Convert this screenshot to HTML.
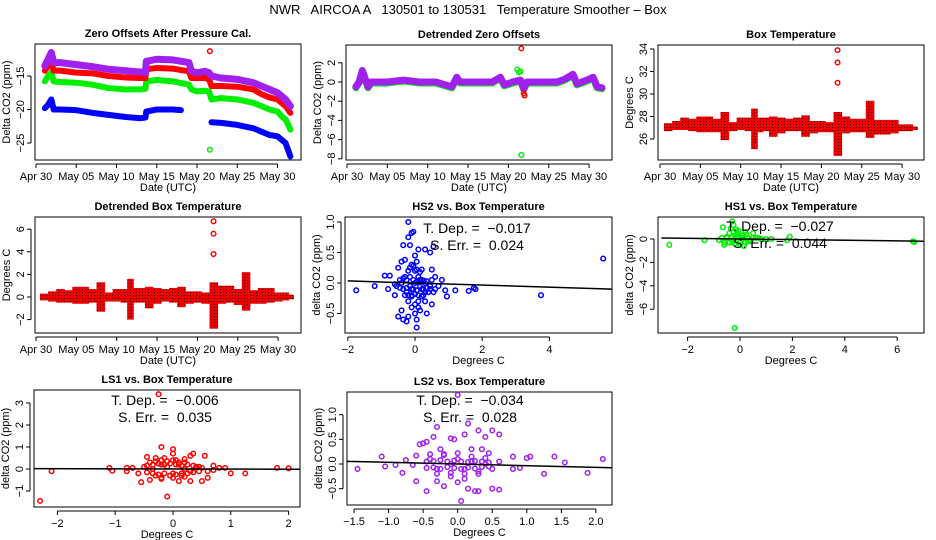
<!DOCTYPE html>
<html><head><meta charset="utf-8"><style>
body{margin:0;background:#fff}
svg{display:block;font-family:"Liberation Sans",Arial,sans-serif}
.t{font-weight:bold;font-size:11px;text-anchor:middle}
.tk{font-size:11px}
</style></head><body>
<svg id="c" width="936" height="540" viewBox="0 0 936 540">
<defs>
<pattern id="redpat" width="3" height="3" patternUnits="userSpaceOnUse"><rect width="3" height="3" fill="#e00"/><rect x="1" y="1" width="1" height="1" fill="#400"/></pattern>
</defs>
<text x="468" y="14" font-size="13" text-anchor="middle" style="white-space:pre">NWR   AIRCOA A   130501 to 130531   Temperature Smoother – Box</text>
</svg>
<script>
// ---- data (day offsets from Apr 30) ----
const p1Times=[1.1,1.5,1.9,2.2,3,5,7,9,11,13,13.6,13.7,15,17,19,19.3,20,21,21.5,21.8,23,25,27,28,29,30,30.5,31,31.3,31.6];
const p1Purple=[-13.5,-12.5,-11.5,-13,-13,-13.3,-13.6,-14,-14.2,-14.4,-14.5,-12.8,-12.5,-12.6,-13,-14.3,-14.5,-14.3,-14.5,-15,-15.3,-15.5,-16,-16.5,-17,-17.5,-18,-18.5,-19,-19.5];
const p1Red=[-14.2,-13.5,-13,-14.2,-14.2,-14.5,-14.6,-15,-15.2,-15.3,-15.3,-14,-13.8,-13.9,-14.3,-15.3,-15.3,-15.3,-15.5,-16.5,-16.5,-16.6,-17,-17.7,-18.2,-18.5,-19,-19.5,-20,-20.5];
const p1Green=[-15.8,-15,-14.5,-15.8,-15.9,-16,-16.3,-16.8,-17,-17,-16.9,-15.8,-15.6,-15.8,-16.3,-17,-17.3,-17.2,-17.3,-18.5,-18.3,-18.5,-19,-19.5,-20,-20.3,-21,-21.5,-22.2,-23];
const p1BlueTimes=[1.1,1.5,1.9,2.2,3,5,7,9,11,13,13.6,13.7,15,17,18,21.8,23,25,27,28,29,30,30.5,31,31.3,31.6];
const p1Blue=[-19.8,-19.3,-18.5,-20,-20,-20.1,-20.5,-20.8,-21.1,-21.3,-21.2,-20.3,-20,-20,-20.1,-21.9,-22,-22.3,-22.8,-23.3,-23.8,-24,-24.5,-25,-26,-27];
const p2Times=[1.1,1.5,1.9,2.2,2.6,3,5,7,9,11,13,13.6,14,16,18,19,19.5,20.5,21.5,21.9,22.3,24,26,27,28,28.5,30,30.5,31,31.6];
const p2Purple=[-0.5,0,1.2,0.5,-0.5,0,0,0.2,0,0,-0.5,0.5,0,0,0,0.5,-0.3,0,0.2,-0.7,0,0,0,0.3,0.8,-0.2,0.3,0.5,-0.5,-0.6];
const tempDays=[1,2,3,4,5,6,7,8,9,10,11,11.6,12.5,13,14,15,16,17,18,19,20,21,22,23,24,25,26,27,28,29,30,31,31.6];
const tempLo=[26.7,26.8,26.8,26.7,26.6,26.6,26.6,25.9,26.7,26.8,26.7,25.1,26.6,26.7,26.2,26.5,26.7,26.7,26.2,26.5,26.6,26.6,24.5,26.5,26.6,26.6,26.1,26.4,26.4,26.5,26.7,26.7,26.8];
const tempHi=[27.4,27.6,27.9,27.8,28,28,27.8,28.4,27.5,27.9,27.9,28.7,27.9,27.9,28,27.9,27.8,27.9,28.1,27.6,27.6,27.5,28.4,28,27.8,27.8,29.4,27.7,27.7,27.7,27.3,27.3,27.1];
const detLo=[-0.3,-0.4,-0.5,-0.5,-0.6,-0.6,-0.5,-1.3,-0.4,-0.4,-0.5,-2,-0.5,-0.5,-1,-0.6,-0.4,-0.5,-0.9,-0.6,-0.5,-0.6,-2.8,-0.6,-0.5,-0.7,-1.2,-0.6,-0.6,-0.5,-0.4,-0.3,-0.2];
const detHi=[0.3,0.5,0.7,0.6,0.9,0.9,0.7,1.3,0.4,0.7,0.7,1.6,0.8,0.8,0.9,0.8,0.7,0.8,0.9,0.5,0.5,0.4,1.3,1,1,0.7,2.2,0.6,0.8,0.8,0.4,0.4,0.2];
const hs2X=[-1.75,-1.2,-0.9,-0.75,-0.8,-0.6,-0.5,-0.4,-0.3,-0.35,-0.15,-0.1,-0.2,-0.05,-0.2,0,0.1,0.3,0.45,0.55,0.2,0.5,0.8,0.9,0.95,1.2,1.6,1.75,1.8,3.75,5.6,-0.4,-0.5,-0.35,-0.25,-0.2,0,0.05,0.05,0.15,0.35,0.5,-0.55,-0.3,-0.2,-0.1,0,0.1,0.2,0.3,0.4,0.5,0.6,-0.1,0,0.1,-0.2,0.3,-0.4,0.2,-0.25,0.45,0.6,-0.1,0.05,0.25,
 -0.45,-0.35,-0.25,-0.15,-0.05,0.05,0.15,0.25,0.35,-0.45,-0.35,-0.25,-0.15,-0.05,0.05,0.15,0.25,0.35,0.45,-0.3,-0.2,-0.1,0,0.1,0.2,0.3,-0.15,-0.05,0.05,0.15,-0.1,0,0.1,0.7,-0.6,0.55];
const hs2Y=[-0.12,-0.05,0.12,0.12,-0.1,-0.2,0.25,0.35,0.38,0.62,0.62,0.82,0.75,0.84,1.0,0.45,0.55,0.55,0.5,0.6,0.22,0.22,0.05,-0.12,-0.22,-0.12,-0.13,-0.08,-0.1,-0.2,0.4,-0.45,-0.55,-0.6,-0.63,-0.55,-0.5,-0.6,-0.73,-0.45,-0.5,-0.35,-0.05,0.1,0.2,-0.1,0,0.1,-0.1,0,-0.15,0.05,-0.1,0.3,0.2,-0.3,-0.3,-0.3,0,0.05,-0.15,-0.05,0.1,-0.2,0.35,-0.2,
 0.05,0.08,0.05,0.1,0.05,0.02,0.05,0.04,0.03,-0.08,-0.1,-0.08,-0.05,-0.1,-0.12,-0.06,-0.1,-0.08,-0.1,-0.2,-0.2,-0.22,-0.18,-0.2,-0.22,-0.15,0.25,0.28,0.22,0.18,-0.4,-0.35,-0.4,-0.05,-0.02,-0.15];
const hs1X=[-2.7,-1.35,-0.65,-0.3,-0.25,-0.15,-0.2,1.9,1.8,6.6,6.65,-0.8,-0.6,-0.5,-0.4,-0.3,-0.2,-0.1,0,0.1,0.2,0.3,0.5,0.6,0.8,1,1.2,-0.35,0.15,-0.1,0.4,0.05,
 -0.7,-0.5,-0.3,-0.1,0.1,0.3,0.5,0.7,-0.6,-0.4,-0.2,0,0.2,0.4,-0.25,-0.05,0.25];
const hs1Y=[-0.5,-0.1,1.0,1.5,1.2,0.8,-7.6,0.2,-0.1,-0.2,-0.25,-0.1,-0.5,0.2,0.5,-0.3,0.3,0,-0.5,0.3,0.6,-0.2,0.5,0.1,0,0,0,0.9,-0.6,0.5,-0.1,0.1,
 0.1,0.1,0.2,0.2,0.1,0.1,0.1,0.1,-0.3,-0.3,-0.4,-0.3,-0.3,-0.2,0.6,0.7,0.4];
const ls1X=[-2.3,-2.1,-1.1,-1.05,-0.8,-0.8,-0.7,-0.55,-0.45,-0.4,-0.3,-0.25,-0.2,-0.1,0,0,0.2,0.3,0.35,0.55,0.6,0.5,0.3,0.1,-0.2,0.7,0.9,1,1.25,1.8,2,-0.6,-0.5,-0.4,-0.3,-0.2,-0.1,0,0.1,0.2,0.3,0.4,0.5,0.6,-0.15,0.05,-0.35,0.15,0.7,0.8,
 -0.45,-0.35,-0.25,-0.15,-0.05,0.05,0.15,0.25,0.35,0.45,-0.45,-0.35,-0.25,-0.15,-0.05,0.05,0.15,0.25,0.35,0.45,-0.3,-0.2,-0.1,0,0.1,0.2,-0.2,0,0.2];
const ls1Y=[-1.45,-0.1,0.05,-0.08,0.05,-0.1,0.05,-0.6,0.55,-0.5,0.5,3.4,1.0,-1.25,0.9,0.7,0.45,0.6,0.7,0.6,-0.4,-0.55,-0.55,-0.55,-0.45,0.15,0.05,-0.2,-0.2,0.05,0.03,-0.2,0.1,0.3,-0.3,0.2,0.1,-0.2,0.2,0,-0.1,0.1,0.05,-0.1,0.5,0.4,0,-0.3,-0.05,0.05,
 0.15,0.2,0.25,0.2,0.25,0.2,0.15,0.2,0.15,0.1,-0.15,-0.2,-0.25,-0.2,-0.3,-0.25,-0.2,-0.2,-0.15,-0.1,0.35,0.4,0.35,0.4,0.3,0.3,-0.4,-0.4,-0.35];
const ls2X=[-1.45,-1.1,-1.05,-0.9,-0.8,-0.75,-0.65,-0.6,-0.6,-0.55,-0.5,-0.45,-0.45,-0.35,-0.3,-0.3,-0.2,-0.1,-0.05,0,0,0.05,0.1,0.15,0.15,0.25,0.3,0.3,0.35,0.4,0.45,0.5,0.5,0.6,0.6,0.8,0.8,0.9,1.0,1.05,1.25,1.4,1.55,1.88,2.1,-0.4,-0.3,-0.2,-0.1,0,0.1,0.2,0.3,0.4,0.5,-0.1,0.2,-0.25,0.6,0.1,
 -0.45,-0.35,-0.25,-0.15,-0.05,0.05,0.15,0.25,0.35,0.45,-0.45,-0.35,-0.25,-0.15,-0.05,0.05,0.15,0.25,0.35,0.45,-0.4,-0.2,0,0.2,0.4,-0.3,-0.1,0.1,0.3];
const ls2Y=[-0.1,0.15,-0.05,-0.02,-0.18,0.08,-0.02,0.17,-0.35,0.4,0.42,0.45,-0.55,0.55,0.75,-0.35,-0.45,0.52,0.5,1.4,-0.37,-0.75,0.6,0.82,-0.5,-0.55,0.68,-0.55,0.3,0.55,0.22,0.68,-0.5,-0.52,0.6,0.15,-0.1,-0.08,0.12,0.15,-0.2,0.15,0.03,-0.18,0.1,0.1,-0.1,0.2,0,0.1,-0.1,0.05,-0.2,0,-0.1,-0.25,0.3,0.3,0.05,-0.3,
 0.05,0.06,0.08,0.05,0.07,0.05,0.04,0.06,0.05,0.03,-0.08,-0.07,-0.1,-0.06,-0.08,-0.1,-0.07,-0.09,-0.06,-0.05,0.2,0.18,0.22,0.15,0.12,-0.2,-0.18,-0.2,-0.15];
const slopes=[-0.017,-0.027,-0.006,-0.034];
const sErr=[0.024,0.044,0.035,0.028];
const dateLabels=["Apr 30","May 05","May 10","May 15","May 20","May 25","May 30"];
const dateTicks=[0,5,10,15,20,25,30];

const svg=document.getElementById('c');
const NS='http://www.w3.org/2000/svg';
function mk(tag,attrs,parent){const e=document.createElementNS(NS,tag);for(const k in attrs)e.setAttribute(k,attrs[k]);(parent||svg).appendChild(e);return e;}
function txt(s,x,y,attrs,parent){const e=mk('text',Object.assign({x:x,y:y},attrs||{}),parent);e.textContent=s;return e;}
function fmt(v){return String(v).replace('-','−');}

function panel(name,box,title,sx,sy,xt,xl,yt,yl,xlab,ylab){
  const g=mk('g',{});
  
  
  const [x0,y0,x1,y1]=box;
  const fr=mk('rect',{x:x0,y:y0,width:x1-x0,height:y1-y0,fill:'none',stroke:'#000'},g);
  
  
  const tt=txt(title,(x0+x1)/2,y0-7,{class:'t'},g);
  
  
  const xa=mk('g',{},g);
  
  
  mk('line',{x1:sx(xt[0]),x2:sx(xt[xt.length-1]),y1:y1+4,y2:y1+4,stroke:'#000'},xa);
  xt.forEach((v,i)=>{const X=sx(v);mk('line',{x1:X,x2:X,y1:y1+4,y2:y1+8,stroke:'#000'},xa);
    const l=txt(xl[i],X,y1+20,{class:'tk','text-anchor':'middle'},xa);
    
    });
  const xt2=txt(xlab,(x0+x1)/2,y1+31,{class:'tk','text-anchor':'middle'},g);
  
  
  const ya=mk('g',{},g);
  
  
  mk('line',{x1:x0-4,x2:x0-4,y1:sy(yt[0]),y2:sy(yt[yt.length-1]),stroke:'#000'},ya);
  yt.forEach((v,i)=>{const Y=sy(v);mk('line',{x1:x0-8,x2:x0-4,y1:Y,y2:Y,stroke:'#000'},ya);
    const l=txt(yl[i],0,0,{class:'tk','text-anchor':'middle',transform:`translate(${x0-11},${Y}) rotate(-90)`},ya);
    
    });
  const yt2=txt(ylab,0,0,{class:'tk','text-anchor':'middle',transform:`translate(${x0-25},${(y0+y1)/2}) rotate(-90)`},g);
  
  
  const clip='cl'+name;
  const cp=mk('clipPath',{id:clip},g);mk('rect',{x:x0,y:y0,width:x1-x0,height:y1-y0},cp);
  const pl=mk('g',{'clip-path':`url(#${clip})`},g);
  
  
  return pl;
}
function lin(v0,p0,scale){return v=>p0+(v-v0)*scale;}
function circ(g,x,y,col,r){const c=mk('circle',{cx:x,cy:y,r:r||2.3,fill:'none',stroke:col,'stroke-width':1.5},g);
  
  return c;}
function series(g,ts,vs,sx,sy,col,w,name){
  let seg=[];const segs=[seg];
  ts.forEach((t,i)=>{if(i>0&&t-ts[i-1]>2){seg=[];segs.push(seg);}seg.push(sx(t)+','+sy(vs[i]));});
  segs.forEach(s=>{const p=mk('polyline',{points:s.join(' '),fill:'none',stroke:col,'stroke-width':w,'stroke-linejoin':'round','stroke-linecap':'round'},g);
    
    });
}
function bands(g,ds,lo,hi,sx,sy,name){
  ds.forEach((d,i)=>{
    const a=i>0?(ds[i-1]+d)/2:d-0.5, b=i<ds.length-1?(ds[i+1]+d)/2:d+0.3;
    const r=mk('rect',{x:sx(a),y:sy(hi[i]),width:sx(b)-sx(a)+0.5,height:sy(lo[i])-sy(hi[i]),fill:'url(#redpat)'},g);
    
    });
}
function regline(g,sx,sy,xmin,xmax,b){
  const l=mk('line',{x1:sx(xmin),y1:sy(b*xmin),x2:sx(xmax),y2:sy(b*xmax),stroke:'#000','stroke-width':1.5},g);
  
  
}
function stats(x,y,i){
  const a=txt('T. Dep. =  '+fmt(slopes[i].toFixed(3)),x,y,{'font-size':14,'text-anchor':'middle',style:'white-space:pre'});
  
  
  const b=txt('S. Err. =  '+sErr[i].toFixed(3),x,y+17,{'font-size':14,'text-anchor':'middle',style:'white-space:pre'});
  
  
}
const PUR='#a020f0';

// Panel 1
{const sx=lin(0,36,8.05),sy=lin(-15,76,-6.7);
 const g=panel('zero-offsets-panel',[35,44,301,160],'Zero Offsets After Pressure Cal.',sx,sy,dateTicks,dateLabels,[-25,-20,-15],['−25','−20','−15'],'Date (UTC)','Delta CO2 (ppm)');
 series(g,p1BlueTimes,p1Blue,sx,sy,'#0000ff',6,'hs2-series');
 series(g,p1Times,p1Green,sx,sy,'#00ee00',6,'hs1-series');
 series(g,p1Times,p1Red,sx,sy,'#ff0000',6,'ls1-series');
 series(g,p1Times,p1Purple,sx,sy,PUR,7,'ls2-series');
 circ(g,sx(21.6),sy(-11.3),'#f00');circ(g,sx(21.6),sy(-26),'#0e0');}
// Panel 2
{const sx=lin(0,347,8.07),sy=lin(0,82,-9.6);
 const g=panel('detrended-offsets-panel',[346,45,612,160],'Detrended Zero Offsets',sx,sy,dateTicks,dateLabels,[-8,-6,-4,-2,0,2],['−8','−6','−4','−2','0','2'],'Date (UTC)','Delta CO2 (ppm)');
 series(g,p2Times,p2Purple.map(v=>v-0.1),sx,sy,'#00ee00',7,'hs1-detrended');
 series(g,p2Times,p2Purple,sx,sy,PUR,7,'ls2-detrended');
 [[21.1,1.3],[21.3,1.0],[21.5,1.1],[21.6,-7.6]].forEach(p=>circ(g,sx(p[0]),sy(p[1]),'#0e0'));
 [[21.6,3.5],[21.9,-1.2],[22,-1.4]].forEach(p=>circ(g,sx(p[0]),sy(p[1]),'#f00'));}
// Panel 3
{const sx=lin(0,660,8.07),sy=lin(26,139,-11.25);
 const g=panel('box-temperature-panel',[658,45,924,160],'Box Temperature',sx,sy,dateTicks,dateLabels,[26,28,30,32,34],['26','28','30','32','34'],'Date (UTC)','Degrees C');
 bands(g,tempDays,tempLo,tempHi,sx,sy,'temperature-band');
 [31,32.8,33.9].forEach(v=>circ(g,sx(22),sy(v),'#f00'));}
// Panel 4
{const sx=lin(0,36,8.07),sy=lin(0,297,-11.3);
 const g=panel('detrended-temperature-panel',[35,217,301,333],'Detrended Box Temperature',sx,sy,dateTicks,dateLabels,[-2,0,2,4,6],['−2','0','2','4','6'],'Date (UTC)','Degrees C');
 bands(g,tempDays,detLo,detHi,sx,sy,'temperature-band');
 [3.8,5.6,6.7].forEach(v=>circ(g,sx(22),sy(v),'#f00'));}
// Panel 5
{const sx=lin(0,415,33.6),sy=lin(0,283,-61);
 const g=panel('hs2-scatter-panel',[345,217,612,333],'HS2 vs. Box Temperature',sx,sy,[-2,0,2,4],['−2','0','2','4'],[-0.5,0,0.5,1.0],['−0.5','0.0','0.5','1.0'],'Degrees C','delta CO2 (ppm)');
 hs2X.forEach((x,i)=>circ(g,sx(x),sy(hs2Y[i]),'#00f'));
 regline(g,sx,sy,-2,6,slopes[0]);stats(477,233,0);}
// Panel 6
{const sx=lin(0,740,26.2),sy=lin(0,239,-11.7);
 const g=panel('hs1-scatter-panel',[658,217,924,333],'HS1 vs. Box Temperature',sx,sy,[-2,0,2,4,6],['−2','0','2','4','6'],[-6,-4,-2,0],['−6','−4','−2','0'],'Degrees C','delta CO2 (ppm)');
 hs1X.forEach((x,i)=>circ(g,sx(x),sy(hs1Y[i]),'#0e0'));
 regline(g,sx,sy,-3,7,slopes[1]);stats(780,231,1);}
// Panel 7
{const sx=lin(0,173,57.8),sy=lin(0,469,-22);
 const g=panel('ls1-scatter-panel',[34,390,300,507],'LS1 vs. Box Temperature',sx,sy,[-2,-1,0,1,2],['−2','−1','0','1','2'],[-1,0,1,2,3],['−1','0','1','2','3'],'Degrees C','delta CO2 (ppm)');
 ls1X.forEach((x,i)=>circ(g,sx(x),sy(ls1Y[i]),'#f00'));
 regline(g,sx,sy,-2.5,2.3,slopes[2]);stats(165,405,2);}
// Panel 8
{const sx=lin(0,457.7,69.1),sy=lin(0,464,-49.3);
 const g=panel('ls2-scatter-panel',[347,392,612,505],'LS2 vs. Box Temperature',sx,sy,[-1.5,-1,-0.5,0,0.5,1,1.5,2],['−1.5','−1.0','−0.5','0.0','0.5','1.0','1.5','2.0'],[-0.5,0,0.5,1.0],['−0.5','0.0','0.5','1.0'],'Degrees C','delta CO2 (ppm)');
 ls2X.forEach((x,i)=>circ(g,sx(x),sy(ls2Y[i]),PUR));
 regline(g,sx,sy,-1.6,2.3,slopes[3]);stats(470,405,3);}
</script>
</body></html>
